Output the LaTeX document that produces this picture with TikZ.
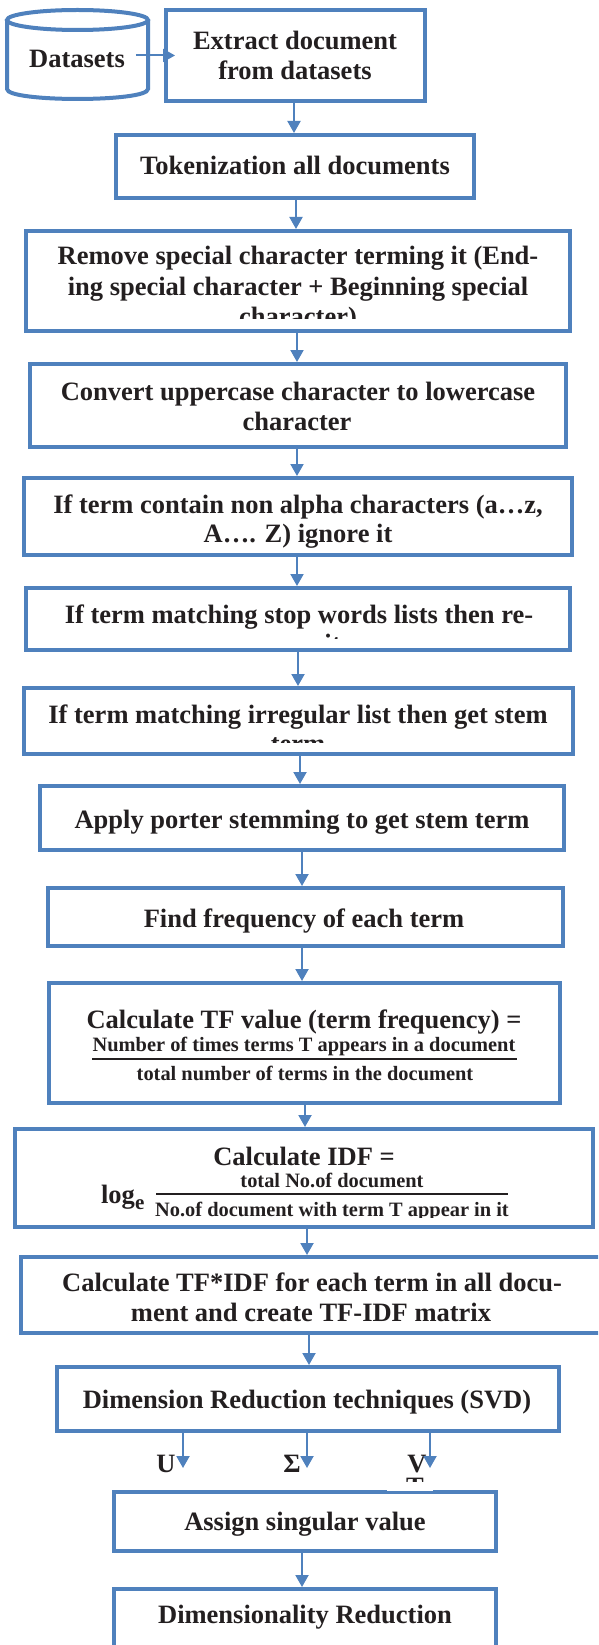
\documentclass[tikz,border=0pt]{standalone}
\usepackage{fontspec}
\setmainfont{Liberation Serif}
\usetikzlibrary{arrows.meta,calc}
\definecolor{boxblue}{RGB}{79,129,189}
\definecolor{ink}{RGB}{35,31,32}
\begin{document}
\begin{tikzpicture}[x=1pt,y=-1pt,
  box/.style={draw=boxblue,line width=4pt,fill=white,inner sep=0pt,rectangle},
  cyl/.style={draw=boxblue,line width=4pt,fill=white},
  lbl/.style={anchor=base,inner sep=0pt,outer sep=0pt,text=ink,font=\fontsize{26.5}{30}\selectfont\bfseries},
  fraclbl/.style={lbl,font=\fontsize{20.4}{24}\selectfont\bfseries},
  sublbl/.style={lbl,anchor=base west,font=\fontsize{21}{24}\selectfont\bfseries},
  bar/.style={draw=ink,line width=1.6pt},
  arr/.style={draw=boxblue,line width=2pt,-{Triangle[width=13pt,length=12pt]}}]
\useasboundingbox (0,0) rectangle (598,1645);
\clip (0,0) rectangle (598,1645);
\fill[white] (0,0) rectangle (598,1645);

% datasets cylinder
\draw[cyl] (7,20) -- (7,89) .. controls (7,102.3) and (148,102.3) .. (148,89) -- (148,20);
\draw[cyl] (77.5,20) ellipse [x radius=70.5, y radius=10];
\node[lbl] (data) at (77,68) {Datasets};

% boxes
\node[box,minimum width=259,minimum height=91] (ext) at (295.5,55.5) {};
\node[box,minimum width=358,minimum height=63] (tok) at (295,166.5) {};
\node[box,minimum width=544,minimum height=100] (rem) at (298,281) {};
\node[box,minimum width=536,minimum height=83] (conv) at (298,405.5) {};
\node[box,minimum width=548,minimum height=77] (cont) at (298,516.5) {};
\node[box,minimum width=544,minimum height=62] (stop) at (298,619) {};
\node[box,minimum width=549,minimum height=66] (irr) at (298.5,721) {};
\node[box,minimum width=524,minimum height=64] (app) at (302,818) {};
\node[box,minimum width=515,minimum height=58] (find) at (305.5,917) {};
\node[box,minimum width=511,minimum height=120] (tf) at (304.5,1043) {};
\node[box,minimum width=578,minimum height=98] (idf) at (304,1178) {};
\node[box,minimum width=619,minimum height=76] (tfidf) at (330.5,1295) {};
\node[box,minimum width=502,minimum height=64] (svd) at (308,1399) {};
\node[box,minimum width=382,minimum height=59] (asg) at (305,1521.5) {};
\node[box,minimum width=382,minimum height=111] (dim) at (305,1644.5) {};

% texts
\node[lbl] (ext1) at (295,50) {Extract document};
\node[lbl] (ext2) at (295,80) {from datasets};
\node[lbl] (tok1) at (295,175) {Tokenization all documents};
\node[lbl] (rem1) at (298,265) {Remove special character terming it (End-};
\node[lbl] (rem2) at (298,295) {ing special character + Beginning special};
\begin{scope}
\clip (0,290) rectangle (598,318);
\node[lbl] (rem3) at (298,325) {character)};
\end{scope}
\node[lbl] (conv1) at (298,400) {Convert uppercase character to lowercase};
\node[lbl] (conv2) at (297,430) {character};
\node[lbl] (cont1) at (298,513) {If term contain non alpha characters (a…z,};
\node[lbl] (cont2) at (298,542) {A…. Z) ignore it};
\node[lbl] (stop1) at (299,623) {If term matching stop words lists then re-};
\begin{scope}
\clip (0,628) rectangle (598,638);
\node[lbl] (stop2) at (299,652) {move it};
\end{scope}
\node[lbl] (irr1) at (298,723) {If term matching irregular list then get stem};
\begin{scope}
\clip (0,728) rectangle (598,742);
\node[lbl] (irr2) at (298,752) {term};
\end{scope}
\node[lbl] (app1) at (302,828) {Apply porter stemming to get stem term};
\node[lbl] (find1) at (304,927) {Find frequency of each term};
\node[lbl] (tf1) at (304,1028) {Calculate TF value (term frequency) =};
\node[fraclbl] (tfnum) at (304,1051) {Number of times terms T appears in a document};
\draw[bar] (92,1059) -- (517,1059);
\node[fraclbl] (tfden) at (305,1080) {total number of terms in the document};
\node[lbl] (idf1) at (304,1165) {Calculate IDF =};
\node[lbl,anchor=base west] (idflog) at (101,1203) {log};
\node[sublbl] (idfe) at (135,1209) {e};
\node[fraclbl] (idfnum) at (332,1187) {total No.of document};
\draw[bar] (156,1194) -- (508,1194);
\begin{scope}
\clip (0,1196) rectangle (598,1217);
\node[fraclbl] (idfden) at (332,1216) {No.of document with term T appear in it};
\end{scope}
\node[lbl] (tfidf1) at (312,1291) {Calculate TF*IDF for each term in all docu-};
\node[lbl] (tfidf2) at (311,1321) {ment and create TF-IDF matrix};
\node[lbl] (svd1) at (307,1408) {Dimension Reduction techniques (SVD)};
\node[lbl] (lu) at (166,1472) {U};
\node[lbl] (ls) at (292,1472) {Σ};
\node[lbl] (lv) at (417,1472) {V};
\begin{scope}
\clip (380,1474) rectangle (440,1481);
\node[lbl] (lt) at (415,1495) {T};
\end{scope}
\fill[white] (387,1482) rectangle (433,1491);
\node[lbl] (asg1) at (305,1530) {Assign singular value};
\node[lbl] (dim1) at (305,1623) {Dimensionality Reduction};

% arrow columns
\coordinate (c1) at (294,0);
\coordinate (c2) at (296,0);
\coordinate (c3) at (297,0);
\coordinate (c4) at (298,0);
\coordinate (c5) at (300,0);
\coordinate (c6) at (302,0);
\coordinate (c7) at (305,0);
\coordinate (c8) at (307,0);
\coordinate (c9) at (309,0);
\coordinate (cu) at (183,0);
\coordinate (cv) at (430,0);
\coordinate (sv) at (0,1468);

% connectors
\draw[arr] ([shift={(11,-4)}]data.east) -- ([shift={(11,-4)}]data.east -| ext.west);
\draw[arr] (ext.south -| c1) -- (tok.north -| c1);
\draw[arr] (tok.south -| c2) -- (rem.north -| c2);
\draw[arr] (rem.south -| c3) -- (conv.north -| c3);
\draw[arr] (conv.south -| c3) -- (cont.north -| c3);
\draw[arr] (cont.south -| c3) -- (stop.north -| c3);
\draw[arr] (stop.south -| c4) -- (irr.north -| c4);
\draw[arr] (irr.south -| c5) -- (app.north -| c5);
\draw[arr] (app.south -| c6) -- (find.north -| c6);
\draw[arr] (find.south -| c6) -- (tf.north -| c6);
\draw[arr] (tf.south -| c7) -- (idf.north -| c7);
\draw[arr] (idf.south -| c8) -- (tfidf.north -| c8);
\draw[arr] (tfidf.south -| c9) -- (svd.north -| c9);
\draw[arr] (svd.south -| cu) -- (sv -| cu);
\draw[arr] (svd.south -| c8) -- (sv -| c8);
\draw[arr] (svd.south -| cv) -- (sv -| cv);
\draw[arr] (asg.south -| c6) -- (dim.north -| c6);
\end{tikzpicture}
\end{document}
